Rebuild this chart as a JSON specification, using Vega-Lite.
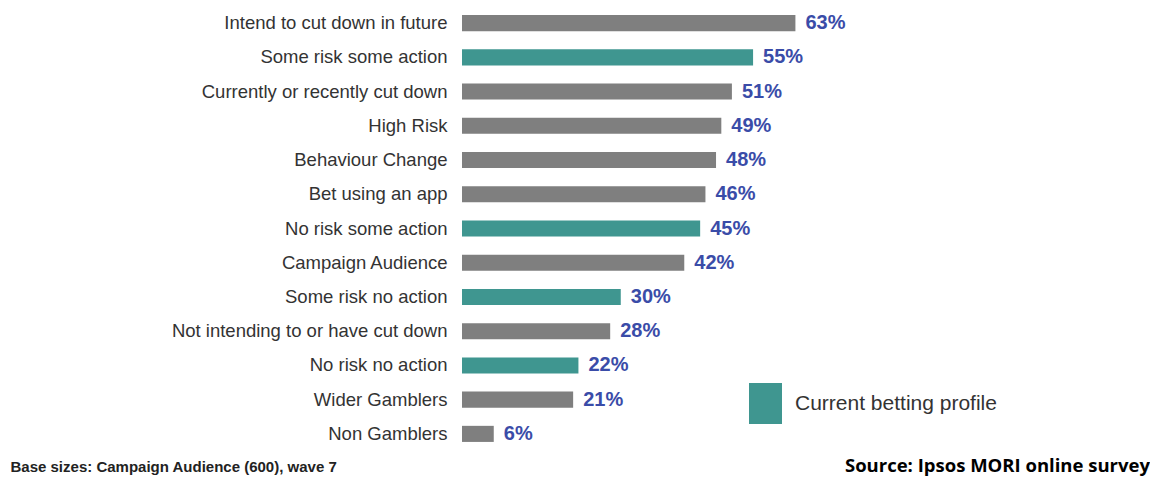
{
  "$schema": "https://vega.github.io/schema/vega-lite/v6.json",
  "width": 688,
  "height": 445,
  "padding": {"left": 10, "top": 6, "right": 0, "bottom": 0},
  "background": "white",
  "config": {"view": {"stroke": null}, "font": "Liberation Sans"},
  "title": {"text": "Source: Ipsos MORI online survey", "orient": "bottom", "anchor": "end", "frame": "group", "font": "Open Sans", "fontSize": 18.5, "fontWeight": "bold", "color": "#000000", "offset": -17},
  "data": {"values": [
    {"label": "Intend to cut down in future", "value": 0.63, "group": "Other"},
    {"label": "Some risk some action", "value": 0.55, "group": "Current betting profile"},
    {"label": "Currently or recently cut down", "value": 0.51, "group": "Other"},
    {"label": "High Risk", "value": 0.49, "group": "Other"},
    {"label": "Behaviour Change", "value": 0.48, "group": "Other"},
    {"label": "Bet using an app", "value": 0.46, "group": "Other"},
    {"label": "No risk some action", "value": 0.45, "group": "Current betting profile"},
    {"label": "Campaign Audience", "value": 0.42, "group": "Other"},
    {"label": "Some risk no action", "value": 0.30, "group": "Current betting profile"},
    {"label": "Not intending to or have cut down", "value": 0.28, "group": "Other"},
    {"label": "No risk no action", "value": 0.22, "group": "Current betting profile"},
    {"label": "Wider Gamblers", "value": 0.21, "group": "Other"},
    {"label": "Non Gamblers", "value": 0.06, "group": "Other"}
  ]},
  "encoding": {
    "y": {"field": "label", "type": "nominal", "sort": null,
      "scale": {"paddingInner": 0.53, "paddingOuter": 0.265},
      "axis": {"title": null, "domain": false, "ticks": false, "labelPadding": 15, "labelFontSize": 18.5, "labelColor": "#333333", "labelFont": "Liberation Sans", "labelLimit": 400}},
    "x": {"field": "value", "type": "quantitative", "scale": {"domain": [0, 1.30], "nice": false},
      "axis": {"grid": false, "domain": false, "ticks": false, "labels": false,
        "title": "Base sizes: Campaign Audience (600), wave 7", "titleX": -452, "titleY": 20, "titleAlign": "left", "titleAnchor": "start", "titleBaseline": "alphabetic", "titleFont": "Liberation Sans", "titleFontSize": 15, "titleFontWeight": "bold", "titleColor": "#222222"}}
  },
  "layer": [
    {"mark": {"type": "bar"},
      "encoding": {"color": {"field": "group", "type": "nominal",
        "scale": {"domain": ["Current betting profile", "Other"], "range": ["#3f9690", "#7f7f7f"]},
        "legend": {"values": ["Current betting profile"], "title": null, "orient": "none", "legendX": 287, "legendY": 381, "padding": 0,
          "symbolType": "M-1,-1.24H1V1.24H-1Z", "symbolSize": 1089, "symbolStrokeWidth": 0, "symbolOpacity": 1,
          "labelFontSize": 21, "labelColor": "#333333", "labelFont": "Liberation Sans", "labelOffset": 13, "labelLimit": 400}}}},
    {"mark": {"type": "text", "align": "left", "baseline": "middle", "dx": 10, "fontSize": 20, "fontWeight": "bold", "color": "#3a4ca8", "font": "Liberation Sans"},
      "encoding": {"text": {"field": "value", "type": "quantitative", "format": ".0%"}, "detail": {"field": "group"}}}
  ]
}
